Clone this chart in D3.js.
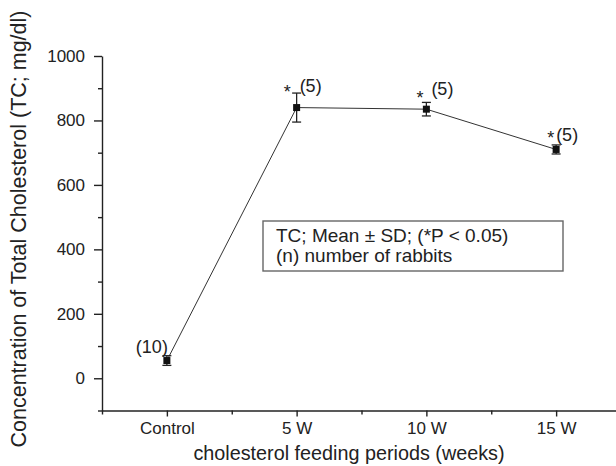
<!DOCTYPE html>
<html>
<meta charset="utf-8">
<head>
<script src="https://cdnjs.cloudflare.com/ajax/libs/d3/7.8.5/d3.min.js"></script>
<style>
  body { margin: 0; background: #fff; }
  text { font-family: "Liberation Sans", Arial, sans-serif; fill: #222; }
</style>
</head>
<body>
<script>
// data
const categories = ["Control", "5 W", "10 W", "15 W"];
const meanTC = [55, 840, 835, 710];
const sdTC = [15, 45, 21, 14];
const nLabels = ["(10)", "(5)", "(5)", "(5)"];
const sigMarks = ["", "*", "*", "*"];
const yTicks = [0, 200, 400, 600, 800, 1000];
const yMinor = [-100, 100, 300, 500, 700, 900];
const legendLines = ["TC; Mean \u00b1 SD; (*P < 0.05)", "(n) number of rabbits"];

const width = 616, height = 466;
const ink = "#222";

// label offsets from each marker (n label, star)
const nOffset = [[1, -8], [3, -16], [5, -14], [0, -8.5]];
const starOffset = [[0, 0], [-13, -10], [-10, -5], [-9, -5.5]];

const svg = d3.select("body").append("svg")
  .attr("width", width)
  .attr("height", height);

const x = d3.scaleLinear().domain([-0.5, 3.5]).range([102, 621]);
const y = d3.scaleLinear().domain([-100, 1000]).range([410.5, 56]);

// x axis
const xAxis = d3.axisBottom(x)
  .tickValues(d3.range(categories.length))
  .tickFormat(i => categories[i])
  .tickSize(6).tickPadding(5).tickSizeOuter(0);
const gx = svg.append("g").attr("transform", `translate(0,${y(-100)})`).call(xAxis);
gx.selectAll("text").style("font-size", "17px").attr("fill", ink);

const gxMinor = svg.append("g").attr("transform", `translate(0,${y(-100)})`)
  .call(d3.axisBottom(x).tickValues([-0.5, 0.5, 1.5, 2.5]).tickSize(4).tickFormat("").tickSizeOuter(0));
gxMinor.select(".domain").remove();

// y axis
const yAxis = d3.axisLeft(y).tickValues(yTicks).tickFormat(d3.format("d"))
  .tickSize(8).tickPadding(9).tickSizeOuter(0);
const gy = svg.append("g").attr("transform", `translate(${x(-0.5)},0)`).call(yAxis);
gy.selectAll("text").style("font-size", "17px").attr("fill", ink);

const gyMinor = svg.append("g").attr("transform", `translate(${x(-0.5)},0)`)
  .call(d3.axisLeft(y).tickValues(yMinor).tickSize(4).tickFormat("").tickSizeOuter(0));
gyMinor.select(".domain").remove();

svg.selectAll(".domain, .tick line").attr("stroke", ink).attr("stroke-width", 1.4);

// axis titles
svg.append("text")
  .attr("x", 349).attr("y", 460)
  .attr("text-anchor", "middle")
  .style("font-size", "19.8px")
  .text("cholesterol feeding periods (weeks)");

svg.append("text")
  .attr("transform", `translate(26,229) rotate(-90)`)
  .attr("text-anchor", "middle")
  .style("font-size", "21.5px")
  .text("Concentration of Total Cholesterol (TC; mg/dl)");

// line
const line = d3.line().x((d, i) => x(i)).y(d => y(d));
svg.append("path")
  .datum(meanTC)
  .attr("d", line)
  .attr("fill", "none")
  .attr("stroke", "#333")
  .attr("stroke-width", 1);

// error bars
const eb = svg.append("g").attr("stroke", ink).attr("stroke-width", 1.3);
meanTC.forEach((m, i) => {
  const cx = x(i);
  eb.append("line").attr("x1", cx).attr("x2", cx).attr("y1", y(m - sdTC[i])).attr("y2", y(m + sdTC[i]));
  [m - sdTC[i], m + sdTC[i]].forEach(v => {
    eb.append("line").attr("x1", cx - 4.5).attr("x2", cx + 4.5).attr("y1", y(v)).attr("y2", y(v));
  });
});

// markers
svg.selectAll(".pt")
  .data(meanTC)
  .enter().append("rect")
  .attr("class", "pt")
  .attr("x", (d, i) => x(i) - 3.5)
  .attr("y", d => y(d) - 3.5)
  .attr("width", 7).attr("height", 7)
  .attr("fill", "#111");

// annotations
svg.selectAll(".nlab")
  .data(nLabels)
  .enter().append("text")
  .attr("class", "nlab")
  .attr("x", (d, i) => x(i) + nOffset[i][0])
  .attr("y", (d, i) => y(meanTC[i]) + nOffset[i][1])
  .attr("text-anchor", (d, i) => i === 0 ? "end" : "start")
  .style("font-size", "18px")
  .text(d => d);

svg.selectAll(".star")
  .data(sigMarks)
  .enter().append("text")
  .attr("class", "star")
  .attr("x", (d, i) => x(i) + starOffset[i][0])
  .attr("y", (d, i) => y(meanTC[i]) + starOffset[i][1])
  .style("font-size", "18px")
  .text(d => d);

// legend box
svg.append("rect")
  .attr("x", 263).attr("y", 221)
  .attr("width", 300).attr("height", 50)
  .attr("fill", "none")
  .attr("stroke", "#666")
  .attr("stroke-width", 1.4);

svg.selectAll(".leg")
  .data(legendLines)
  .enter().append("text")
  .attr("class", "leg")
  .attr("x", 276)
  .attr("y", (d, i) => 242 + i * 20)
  .style("font-size", "19px")
  .text(d => d);
</script>
</body>
</html>
